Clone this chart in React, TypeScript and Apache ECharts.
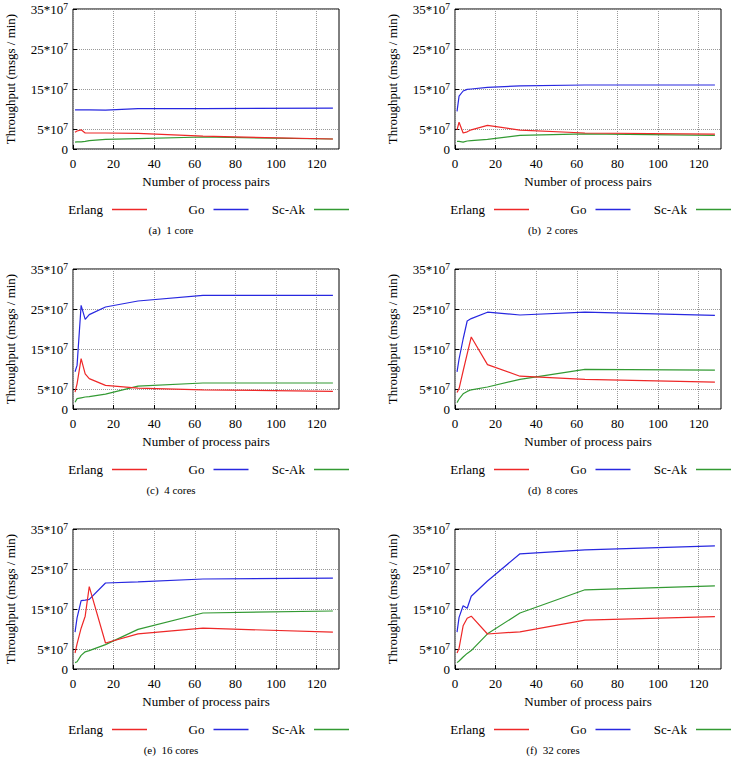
import React, { useEffect, useRef } from "react";
import * as echarts from "echarts";

// Number of communicating process pairs (x axis)
const pairs = [1, 2, 4, 6, 8, 16, 32, 64, 128];

const seriesNames = ["Erlang", "Go", "Sc-Ak"];
const seriesColors = ["#ee2828", "#2828e0", "#339a33"];

const panelTags = ["(a)", "(b)", "(c)", "(d)", "(e)", "(f)"];
const coreLabels = ["1 core", "2 cores", "4 cores", "8 cores", "16 cores", "32 cores"];

// Throughput in units of 10^7 msgs/min, one array per language and core count
const erlang1 = [4.2, 4.5, 4.8, 4.0, 4.0, 4.0, 3.9, 3.2, 2.5];
const go1 = [9.8, 9.8, 9.8, 9.8, 9.8, 9.7, 10.1, 10.1, 10.2];
const scak1 = [1.7, 1.8, 1.8, 1.9, 2.1, 2.4, 2.6, 3.0, 2.5];

const erlang2 = [4.8, 6.7, 4.0, 4.3, 4.8, 5.9, 4.7, 4.0, 3.7];
const go2 = [9.4, 13.2, 14.5, 14.9, 15.0, 15.4, 15.8, 16.0, 16.0];
const scak2 = [1.9, 1.9, 1.7, 2.0, 2.1, 2.4, 3.4, 3.8, 3.4];

const erlang4 = [4.2, 6.3, 12.6, 8.8, 7.6, 5.9, 5.2, 4.8, 4.4];
const go4 = [9.3, 10.9, 25.9, 22.4, 23.6, 25.5, 27.0, 28.4, 28.4];
const scak4 = [1.7, 2.6, 2.8, 3.0, 3.1, 3.7, 5.7, 6.5, 6.5];

const erlang8 = [4.1, 5.1, 9.5, 13.8, 18.0, 11.1, 8.2, 7.4, 6.7];
const go8 = [9.3, 12.5, 17.5, 22.0, 22.6, 24.2, 23.5, 24.2, 23.4];
const scak8 = [1.6, 2.5, 3.8, 4.4, 4.8, 5.5, 7.4, 9.9, 9.7];

const erlang16 = [4.0, 6.3, 10.2, 13.2, 20.6, 6.5, 8.8, 10.2, 9.2];
const go16 = [9.2, 12.8, 17.1, 17.2, 17.4, 21.5, 21.8, 22.5, 22.7];
const scak16 = [1.6, 1.8, 3.4, 4.3, 4.6, 6.1, 9.9, 14.0, 14.5];

const erlang32 = [4.0, 5.2, 10.8, 12.7, 13.2, 8.75, 9.3, 12.2, 13.1];
const go32 = [9.2, 12.9, 15.8, 15.2, 18.2, 22.0, 28.8, 29.8, 30.8];
const scak32 = [1.6, 2.0, 3.0, 3.9, 4.6, 8.8, 14.0, 19.8, 20.8];

const panelData = [
  [erlang1, go1, scak1],
  [erlang2, go2, scak2],
  [erlang4, go4, scak4],
  [erlang8, go8, scak8],
  [erlang16, go16, scak16],
  [erlang32, go32, scak32],
];

// Axis ticks
const xTicks = [0, 20, 40, 60, 80, 100, 120];
const yTicks = [0, 5, 15, 25, 35];

const FONT = "'Liberation Serif', 'Times New Roman', Times, serif";
const W = 738;
const H = 762;

const colLeft = [73, 455];
const rowTop = [9, 269, 529];
const plotW = 266;
const plotH = 140;
const legendLineEnd = [74, 175.5, 276];
const legendLineH = 1.3;

function buildOption() {
  const grid: any[] = [];
  const xAxis: any[] = [];
  const yAxis: any[] = [];
  const series: any[] = [];
  const legend: any[] = [];
  const graphic: any[] = [];

  panelData.forEach((lines, p) => {
    const L = colLeft[p % 2];
    const T = rowTop[Math.floor(p / 2)];

    grid.push({
      left: L,
      top: T,
      width: plotW,
      height: plotH,
      show: true,
      borderColor: "#000",
      borderWidth: 1,
      backgroundColor: "transparent",
    });

    xAxis.push({
      type: "value",
      gridIndex: p,
      min: 0,
      max: 131,
      name: "Number of process pairs",
      nameLocation: "middle",
      nameGap: 26,
      nameTextStyle: { fontFamily: FONT, fontSize: 13, color: "#000" },
      axisLine: { show: false },
      axisTick: {
        show: true,
        inside: true,
        length: 4,
        customValues: xTicks,
        lineStyle: { color: "#000" },
      },
      axisLabel: {
        customValues: xTicks,
        fontFamily: FONT,
        fontSize: 13,
        color: "#000",
        margin: 8,
      },
      splitLine: {
        show: true,
        lineStyle: { color: "#999", type: "dotted", width: 1 },
      },
    });

    yAxis.push({
      type: "value",
      gridIndex: p,
      min: 0,
      max: 35,
      name: "Throughput (msgs / min)",
      nameLocation: "middle",
      nameGap: 56,
      nameTextStyle: { fontFamily: FONT, fontSize: 13, color: "#000" },
      axisLine: { show: false },
      axisTick: {
        show: true,
        inside: true,
        length: 4,
        customValues: yTicks,
        lineStyle: { color: "#000" },
      },
      axisLabel: {
        customValues: yTicks,
        fontFamily: FONT,
        fontSize: 13,
        color: "#000",
        margin: 5,
        formatter: (v: number) => (v === 0 ? "0" : `{b|${v}*10}{s|7}`),
        rich: {
          b: { fontFamily: FONT, fontSize: 13, color: "#000", verticalAlign: "bottom" },
          s: {
            fontFamily: FONT,
            fontSize: 9.5,
            color: "#000",
            verticalAlign: "top",
            padding: [0, 0, 4, 0],
          },
        },
      },
      splitLine: {
        show: true,
        lineStyle: { color: "#999", type: "dotted", width: 1 },
      },
    });

    lines.forEach((vals, s) => {
      series.push({
        name: seriesNames[s],
        type: "line",
        xAxisIndex: p,
        yAxisIndex: p,
        symbol: "none",
        showSymbol: false,
        color: seriesColors[s],
        lineStyle: { color: seriesColors[s], width: 1.2 },
        data: pairs.map((x, i) => [x, vals[i]]),
        z: 3 - s,
      });
    });

    seriesNames.forEach((nm, s) => {
      legend.push({
        data: [nm],
        right: W - (L + legendLineEnd[s]),
        top: T + 194,
        orient: "horizontal",
        align: "right",
        padding: 0,
        icon: "rect",
        itemWidth: 35,
        itemHeight: legendLineH,
        selectedMode: false,
        textStyle: {
          fontFamily: FONT,
          fontSize: 13,
          color: "#000",
          padding: [0, 4, 0, 0],
        },
      });
    });

    graphic.push({
      type: "text",
      x: L + 98,
      y: T + 221,
      style: {
        text: `${panelTags[p]}  ${coreLabels[p]}`,
        fontFamily: FONT,
        fontSize: 11,
        fill: "#000",
        align: "center",
        verticalAlign: "middle",
      },
    });
  });

  return {
    animation: false,
    backgroundColor: "#fff",
    textStyle: { fontFamily: FONT },
    grid,
    xAxis,
    yAxis,
    series,
    legend,
    graphic,
  };
}

export default function App() {
  const ref = useRef<HTMLDivElement>(null);

  useEffect(() => {
    if (!ref.current) return;
    const chart = echarts.init(ref.current, undefined, { renderer: "svg" });
    chart.setOption(buildOption());
    return () => chart.dispose();
  }, []);

  return (
    <div
      ref={ref}
      style={{ position: "fixed", left: 0, top: 0, width: W, height: H, background: "#fff" }}
    />
  );
}
